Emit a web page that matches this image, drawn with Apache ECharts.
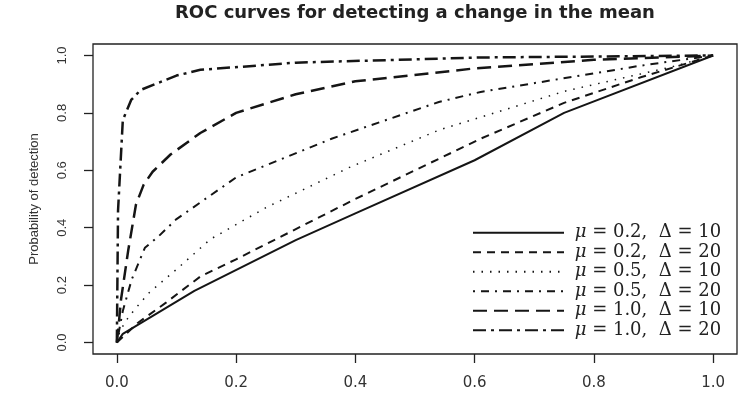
<!DOCTYPE html>
<html>
<head>
<meta charset="utf-8">
<script src="https://cdn.jsdelivr.net/npm/echarts@6/dist/echarts.min.js"></script>
<style>
  html, body { margin: 0; padding: 0; background: #fff; }
  #roc { width: 750px; height: 398px; }
</style>
</head>
<body>
<div id="roc"></div>
<script>
// [false alarm rate, probability of detection]
const mu02d10 = [[0, 0], [0.01, 0.03], [0.13, 0.18], [0.3, 0.357], [0.4, 0.45], [0.6, 0.635], [0.75, 0.8], [1, 1]]
const mu02d20 = [[0, 0], [0.035, 0.068], [0.083, 0.14], [0.14, 0.23], [0.2, 0.29], [0.4, 0.5], [0.61, 0.71], [0.75, 0.835], [0.88, 0.925], [1, 1]]
const mu05d10 = [[0, 0], [0.005, 0.04], [0.02, 0.09], [0.04, 0.14], [0.055, 0.175], [0.1, 0.255], [0.157, 0.36], [0.25, 0.47], [0.39, 0.61], [0.54, 0.74], [0.61, 0.785], [0.75, 0.875], [0.93, 0.96], [1, 1]]
const mu05d20 = [[0, 0], [0.01, 0.11], [0.025, 0.22], [0.047, 0.33], [0.07, 0.37], [0.1, 0.43], [0.2, 0.575], [0.36, 0.71], [0.54, 0.838], [0.61, 0.873], [0.88, 0.965], [1, 1]]
const mu10d10 = [[0, 0], [0.003, 0.06], [0.007, 0.15], [0.019, 0.32], [0.032, 0.48], [0.045, 0.55], [0.06, 0.595], [0.09, 0.655], [0.14, 0.73], [0.2, 0.8], [0.3, 0.865], [0.4, 0.91], [0.6, 0.955], [0.8, 0.985], [1, 1]]
const mu10d20 = [[0, 0], [0.002, 0.46], [0.01, 0.775], [0.024, 0.845], [0.04, 0.88], [0.07, 0.905], [0.1, 0.93], [0.14, 0.95], [0.3, 0.975], [0.61, 0.993], [1, 1]]

const muValues = ['0.2', '0.2', '0.5', '0.5', '1.0', '1.0']
const deltaValues = ['10', '20', '10', '20', '10', '20']
const tickValues = [0, 0.2, 0.4, 0.6, 0.8, 1.0]

const curves = [mu02d10, mu02d20, mu05d10, mu05d20, mu10d10, mu10d20]
const lineTypes = [
  {width: 2, type: 'solid'},
  {width: 2, type: [8, 6]},
  {width: 1.5, type: [1.5, 7]},
  {width: 2, type: [2, 6, 8, 6]},
  {width: 2.5, type: [14, 7]},
  {width: 2.5, type: [13, 5, 3, 5]}
]

const names = muValues.map((m, i) => 'μ = ' + m + ',  Δ = ' + deltaValues[i])

var chart = echarts.init(document.getElementById('roc'))

const axisCommon = {
  type: 'value',
  min: -0.04,
  max: 1.04,
  splitLine: {show: false},
  axisLine: {show: false, onZero: false},
  axisTick: {
    show: true,
    inside: false,
    length: 9,
    customValues: tickValues,
    lineStyle: {color: '#222', width: 1.3}
  }
}

let option = {
  backgroundColor: '#fff',
  animation: false,
  title: {
    text: 'ROC curves for detecting a change in the mean',
    left: 175,
    top: 4,
    padding: 0,
    textStyle: {
      fontFamily: 'DejaVu Sans',
      fontWeight: 'bold',
      fontSize: 18,
      color: '#222'
    }
  },
  grid: {
    left: 93,
    top: 44,
    width: 644,
    height: 310,
    show: true,
    borderColor: '#222',
    borderWidth: 1.3,
    backgroundColor: 'transparent'
  },
  legend: {
    orient: 'vertical',
    left: 472,
    top: 223,
    padding: 0,
    itemWidth: 91,
    itemHeight: 14,
    itemGap: 0,
    itemStyle: {opacity: 0},
    data: names,
    formatter: function (name) {
      return ' {i|μ}' + name.slice(1)
    },
    textStyle: {
      fontFamily: 'DejaVu Serif',
      fontSize: 18,
      lineHeight: 19.5,
      color: '#222',
      rich: {
        i: {fontFamily: 'DejaVu Serif', fontStyle: 'italic', fontSize: 18, lineHeight: 19.5, color: '#222'}
      }
    }
  },
  xAxis: Object.assign({}, axisCommon, {
    axisLabel: {
      customValues: tickValues,
      margin: 22,
      fontFamily: 'DejaVu Sans',
      fontSize: 15,
      color: '#333',
      formatter: v => v.toFixed(1)
    }
  }),
  yAxis: Object.assign({}, axisCommon, {
    name: 'Probability of detection',
    nameLocation: 'middle',
    nameGap: 52,
    nameTextStyle: {
      fontFamily: 'Liberation Sans',
      fontSize: 13,
      color: '#333'
    },
    axisLabel: {
      customValues: tickValues,
      rotate: 90,
      margin: 24,
      fontFamily: 'Liberation Sans',
      fontSize: 13,
      color: '#333',
      formatter: v => v.toFixed(1)
    }
  }),
  series: curves.map((data, i) => ({
    name: names[i],
    type: 'line',
    data: data,
    symbol: 'none',
    silent: true,
    lineStyle: Object.assign({color: '#151515', cap: 'butt', join: 'round'}, lineTypes[i])
  }))
}

chart.setOption(option)
</script>
</body>
</html>
